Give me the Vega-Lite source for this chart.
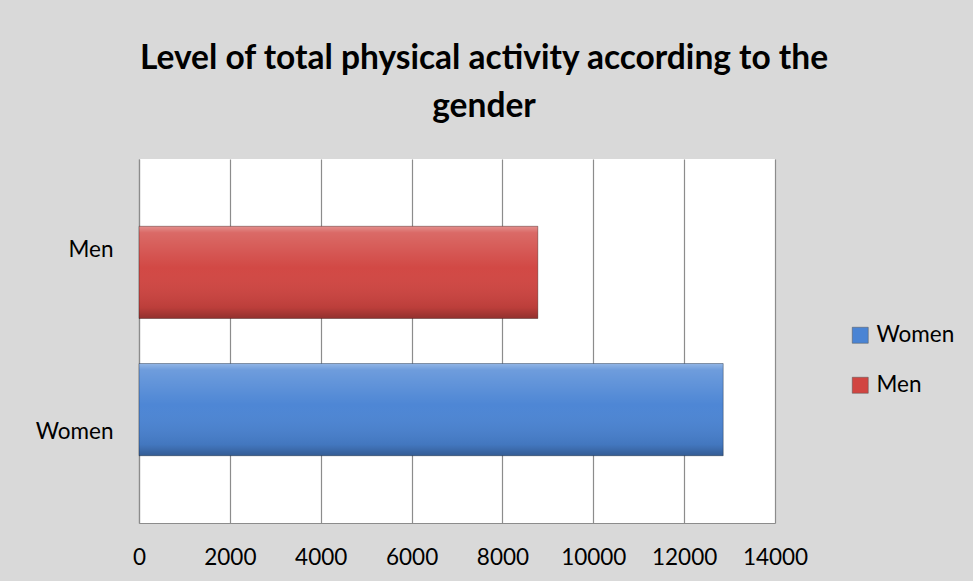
{
  "$schema": "https://vega.github.io/schema/vega-lite/v6.json",
  "width": 636,
  "height": 364,
  "autosize": {"type": "none"},
  "padding": {"left": 139, "top": 159, "right": 198, "bottom": 58},
  "background": "#d9d9d9",
  "title": {
    "text": ["Level of total physical activity according to the", "gender"],
    "font": "Lato",
    "fontSize": 33.5,
    "fontWeight": "bold",
    "color": "#000000",
    "anchor": "middle",
    "frame": "group",
    "dx": 27,
    "lineHeight": 48,
    "offset": 35
  },
  "config": {
    "view": {"fill": "#ffffff", "stroke": null},
    "font": "Lato",
    "axis": {
      "labelFont": "Lato",
      "labelFontSize": 22.5,
      "labelColor": "#000000",
      "domainColor": "#8c8c8c",
      "domainWidth": 1.2,
      "ticks": false,
      "title": null
    },
    "legend": {
      "labelFont": "Lato",
      "labelFontSize": 22.5,
      "labelColor": "#000000"
    }
  },
  "data": {
    "values": [
      {"gender": "Men", "value": 8780},
      {"gender": "Women", "value": 12860}
    ]
  },
  "layer": [
    {
      "mark": {"type": "bar", "cornerRadius": 0},
      "encoding": {
        "y": {
          "field": "gender",
          "type": "nominal",
          "sort": ["Men", "Women"],
          "scale": {"paddingInner": 0.328, "paddingOuter": 0.49},
          "axis": null
        },
        "x": {
          "field": "value",
          "type": "quantitative",
          "scale": {"domain": [0, 14000], "nice": false},
          "axis": {
            "values": [0, 2000, 4000, 6000, 8000, 10000, 12000, 14000],
            "format": "d",
            "grid": true,
            "gridColor": "#8c8c8c",
            "gridWidth": 1.2,
            "labelPadding": 23,
            "labelFlush": false
          }
        },
        "color": {
          "field": "gender",
          "type": "nominal",
          "scale": {"domain": ["Women", "Men"], "range": ["#4a84d4", "#d14541"]},
          "legend": {
            "title": null,
            "orient": "none",
            "legendX": 710,
            "legendY": 165,
            "symbolType": "square",
            "symbolSize": 256,
            "symbolStrokeColor": "#555555",
            "symbolStrokeWidth": 0.5,
            "rowPadding": 27,
            "labelOffset": 5,
            "padding": 0
          }
        }
      }
    },
    {
      "mark": {
        "type": "bar",
        "stroke": "rgba(0,0,0,0.3)",
        "strokeWidth": 1,
        "color": {
          "gradient": "linear",
          "x1": 0, "y1": 0, "x2": 0, "y2": 1,
          "stops": [
            {"offset": 0, "color": "rgba(255,255,255,0.4)"},
            {"offset": 0.07, "color": "rgba(255,255,255,0.2)"},
            {"offset": 0.45, "color": "rgba(255,255,255,0.02)"},
            {"offset": 0.88, "color": "rgba(0,0,0,0.1)"},
            {"offset": 1, "color": "rgba(0,0,0,0.3)"}
          ]
        }
      },
      "encoding": {
        "y": {
          "field": "gender",
          "type": "nominal",
          "sort": ["Men", "Women"],
          "scale": {"paddingInner": 0.328, "paddingOuter": 0.49},
          "axis": null
        },
        "x": {"field": "value", "type": "quantitative"}
      }
    },
    {
      "mark": {"type": "tick", "opacity": 0},
      "encoding": {
        "y": {
          "field": "gender",
          "type": "nominal",
          "sort": ["Men", "Women"],
          "scale": {"paddingInner": 0, "paddingOuter": 0},
          "axis": {"labelPadding": 26, "grid": false}
        },
        "x": {"field": "value", "type": "quantitative"}
      }
    }
  ],
  "resolve": {"scale": {"y": "independent"}}
}
